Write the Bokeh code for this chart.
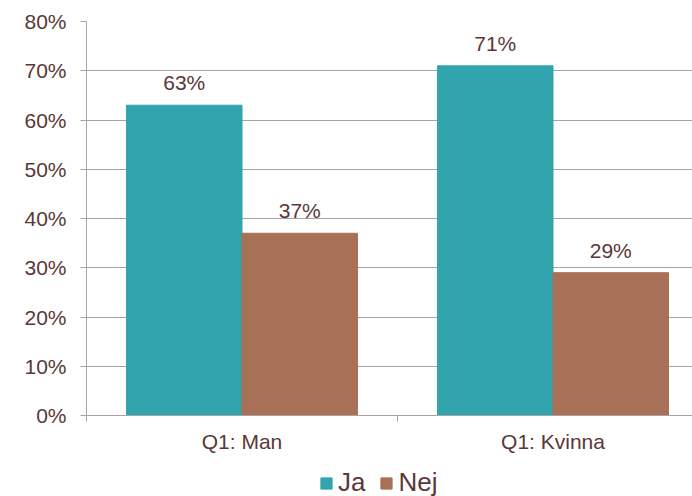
from bokeh.plotting import figure
from bokeh.layouts import column
from bokeh.models import (ColumnDataSource, FixedTicker, PrintfTickFormatter, Range1d,
                          Legend, LegendItem, LabelSet)
from bokeh.core.properties import value
from bokeh.embed import file_html
from bokeh.resources import INLINE

categories = ["Q1: Man", "Q1: Kvinna"]
series = ["Ja", "Nej"]
ja_values = [63, 71]
nej_values = [37, 29]
y_ticks = [0, 10, 20, 30, 40, 50, 60, 70, 80]

colors = {"Ja": "#31A4AE", "Nej": "#A87157"}
text_color = "#5A3838"
grid_color = "#A8A2A2"
FONT = "Liberation Sans"

centers = [i + 0.5 for i in range(len(categories))]
bar_w = 0.3714

p = figure(width=692, height=463, output_backend="svg", toolbar_location=None,
           x_range=Range1d(0, 606 / 311), y_range=Range1d(0, 80),
           min_border_left=86, min_border_right=0, min_border_top=21,
           min_border_bottom=48)
p.outline_line_color = None
p.background_fill_color = "white"
p.border_fill_color = "white"

src_ja = ColumnDataSource(dict(x=[c - bar_w / 2 for c in centers], top=ja_values,
                               label=[f"{v}%" for v in ja_values]))
src_nej = ColumnDataSource(dict(x=[c + bar_w / 2 for c in centers], top=nej_values,
                                label=[f"{v}%" for v in nej_values]))

p.vbar(x="x", top="top", width=bar_w, bottom=0, source=src_ja,
       fill_color=colors["Ja"], line_color=colors["Ja"])
p.vbar(x="x", top="top", width=bar_w, bottom=0, source=src_nej,
       fill_color=colors["Nej"], line_color=colors["Nej"])

for src in (src_ja, src_nej):
    lbl = LabelSet(x="x", y="top", text="label", source=src, text_align="center",
                   text_baseline="bottom", y_offset=11, text_font=value(FONT),
                   text_font_size="21px", text_color=text_color)
    p.add_layout(lbl)

# y axis
p.yaxis.ticker = FixedTicker(ticks=y_ticks)
p.yaxis.formatter = PrintfTickFormatter(format="%d%%")
p.yaxis.major_label_text_font = FONT
p.yaxis.major_label_text_font_size = "21px"
p.yaxis.major_label_text_color = text_color
p.yaxis.axis_line_color = grid_color
p.yaxis.major_tick_line_color = grid_color
p.yaxis.major_tick_in = 0
p.yaxis.major_tick_out = 6
p.yaxis.minor_tick_line_color = None
p.yaxis.major_label_standoff = 14

p.ygrid.ticker = FixedTicker(ticks=y_ticks)
p.ygrid.grid_line_color = grid_color
p.ygrid.grid_line_width = 1
p.xgrid.grid_line_color = None

# x axis
p.xaxis.ticker = FixedTicker(ticks=centers, minor_ticks=[0, 1])
p.xaxis.major_label_overrides = {c: name for c, name in zip(centers, categories)}
p.xaxis.major_label_text_font = FONT
p.xaxis.major_label_text_font_size = "21px"
p.xaxis.major_label_text_color = text_color
p.xaxis.axis_line_color = grid_color
p.xaxis.major_tick_line_color = None
p.xaxis.minor_tick_line_color = grid_color
p.xaxis.minor_tick_in = 0
p.xaxis.minor_tick_out = 6
p.xaxis.major_tick_out = 6
p.xaxis.major_tick_in = 0
p.xaxis.major_label_standoff = 8

# legend strip (hidden renderers only provide the legend swatches)
lg = figure(width=692, height=33, output_backend="svg", toolbar_location=None,
            x_range=Range1d(0, 1), y_range=Range1d(0, 1),
            x_axis_location=None, y_axis_location=None,
            min_border_left=0, min_border_right=0, min_border_top=0, min_border_bottom=0)
lg.outline_line_color = None
lg.xgrid.grid_line_color = None
lg.ygrid.grid_line_color = None
hidden = ColumnDataSource(dict(x=[0.5], top=[1]))
lr_ja = lg.vbar(x="x", top="top", width=0.1, source=hidden, visible=False,
                fill_color=colors["Ja"], line_color=colors["Ja"])
lr_nej = lg.vbar(x="x", top="top", width=0.1, source=hidden, visible=False,
                 fill_color=colors["Nej"], line_color=colors["Nej"])

legend = Legend(items=[LegendItem(label=series[0], renderers=[lr_ja]),
                       LegendItem(label=series[1], renderers=[lr_nej])],
                orientation="horizontal", location=(233, -2),
                label_text_font=FONT, label_text_font_size="26px",
                label_text_color=text_color, glyph_width=14, glyph_height=14,
                border_line_color=None, background_fill_alpha=0,
                inactive_fill_alpha=0,
                padding=0, margin=0, spacing=14, label_standoff=5)
lg.add_layout(legend, "center")

layout = column(p, lg, spacing=0)
open("out.html", "w").write(file_html(layout, INLINE))
